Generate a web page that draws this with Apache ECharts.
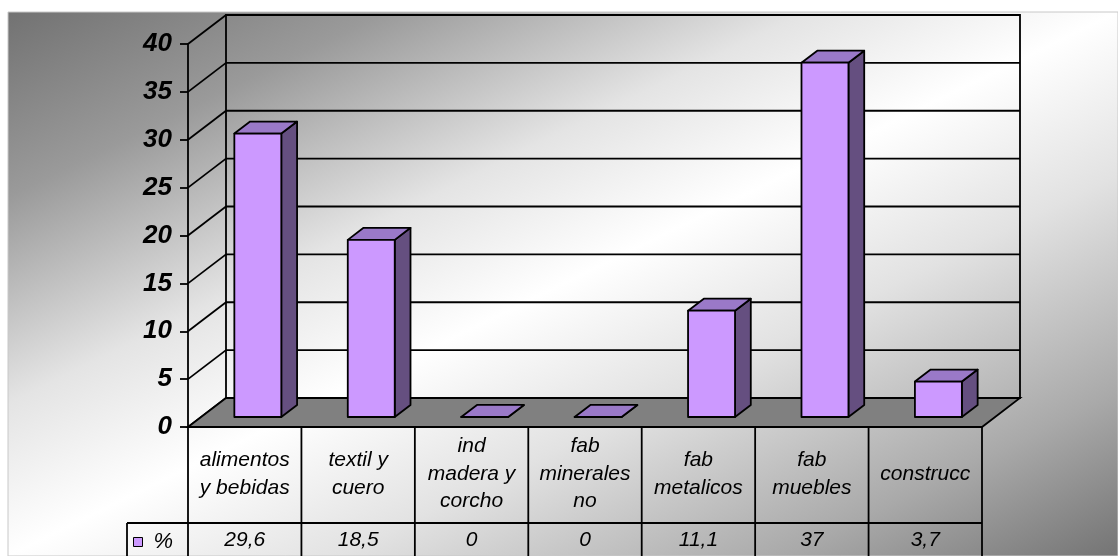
<!DOCTYPE html>
<html>
<head>
<meta charset="utf-8">
<script src="https://cdn.jsdelivr.net/npm/echarts@6/dist/echarts.min.js"></script>
<style>
html,body{margin:0;padding:0;background:#fff;}
#chart{width:1118px;height:556px;}
</style>
</head>
<body>
<div id="chart"></div>
<script>
// ---- data ----
const categories = ['alimentos\ny bebidas', 'textil y\ncuero', 'ind\nmadera y\ncorcho', 'fab\nminerales\nno', 'fab\nmetalicos', 'fab\nmuebles', 'construcc'];
const values = [29.6, 18.5, 0, 0, 11.1, 37, 3.7];
const seriesName = '%';
const yTicks = [0, 5, 10, 15, 20, 25, 30, 35, 40];

// ---- style constants ----
const FONT = '"Liberation Sans", Arial, sans-serif';
const DEPTH = [38, -29];       // oblique depth vector (front -> back)
const F_FRONT = 0.345, F_BACK = 0.76, BAR_FRAC = 0.414;
const C_FRONT = '#CC99FF', C_TOP = '#9A79C8', C_SIDE = '#654F80';
const LW = 1.8;
const fmt = v => String(v).replace('.', ',');

const chart = echarts.init(document.getElementById('chart'), null, {renderer: 'canvas'});

function renderWalls(params, api) {
  const cs = params.coordSys;
  const L = cs.x, R = cs.x + cs.width, B = cs.y + cs.height;
  const dx = DEPTH[0], dy = DEPTH[1];
  const band = api.size([1, 0])[0];
  const line = {stroke: '#000', lineWidth: LW};
  const ch = [];
  const yTop = api.coord([0, yTicks[yTicks.length - 1]])[1];
  // back wall outline
  ch.push({type: 'rect', shape: {x: L + dx, y: yTop + dy, width: R - L, height: B - yTop}, style: Object.assign({fill: 'none'}, line)});
  // gridlines on back wall + side wall
  yTicks.forEach(v => {
    const y = api.coord([0, v])[1];
    ch.push({type: 'line', shape: {x1: L + dx, y1: y + dy, x2: R + dx, y2: y + dy}, style: line});
    ch.push({type: 'line', shape: {x1: L, y1: y, x2: L + dx, y2: y + dy}, style: line});
  });
  // floor
  ch.push({type: 'polygon', shape: {points: [[L, B], [R, B], [R + dx, B + dy], [L + dx, B + dy]]}, style: Object.assign({fill: '#808080'}, line)});
  // data table lines
  const tBottom = B + 135, rowY = B + 96, legL = L - 61;
  for (let i = 0; i <= categories.length; i++) {
    const x = L + i * band;
    ch.push({type: 'line', shape: {x1: x, y1: B, x2: x, y2: tBottom}, style: line});
  }
  ch.push({type: 'line', shape: {x1: legL, y1: rowY, x2: R, y2: rowY}, style: line});
  ch.push({type: 'line', shape: {x1: legL, y1: rowY, x2: legL, y2: tBottom}, style: line});
  return {type: 'group', children: ch};
}

function renderBar(params, api) {
  const i = api.value(0), v = api.value(1);
  const base = api.coord([i, 0]);
  const top = api.coord([i, v]);
  const band = api.size([1, 0])[0];
  const w = band * BAR_FRAC;
  const fx = DEPTH[0] * F_FRONT, fy = DEPTH[1] * F_FRONT;
  const ddx = DEPTH[0] * (F_BACK - F_FRONT), ddy = DEPTH[1] * (F_BACK - F_FRONT);
  const x0 = base[0] - w / 2 + fx, x1 = base[0] + w / 2 + fx;
  const yb = base[1] + fy, yt = top[1] + fy;
  const st = {stroke: '#000', lineWidth: LW, lineJoin: 'round'};
  return {type: 'group', children: [
    {type: 'polygon', shape: {points: [[x1, yb], [x1 + ddx, yb + ddy], [x1 + ddx, yt + ddy], [x1, yt]]}, style: Object.assign({fill: C_SIDE}, st)},
    {type: 'polygon', shape: {points: [[x0, yt], [x1, yt], [x1 + ddx, yt + ddy], [x0 + ddx, yt + ddy]]}, style: Object.assign({fill: C_TOP}, st)},
    {type: 'rect', shape: {x: x0, y: yt, width: w, height: yb - yt}, style: Object.assign({fill: C_FRONT}, st)}
  ]};
}

const bg = new echarts.graphic.LinearGradient(8, 12, 438, 889, [
  {offset: 0, color: '#727272'},
  {offset: 0.17, color: '#9a9a9a'},
  {offset: 0.36, color: '#e4e4e4'},
  {offset: 0.5, color: '#ffffff'},
  {offset: 0.65, color: '#e2e2e2'},
  {offset: 0.85, color: '#a9a9a9'},
  {offset: 1, color: '#747474'}
], true);

const option = {
  animation: false,
  backgroundColor: '#fff',
  graphic: [{type: 'rect', z: -10, shape: {x: 8, y: 12, width: 1110, height: 544}, style: {fill: bg, stroke: '#c8c8c8', lineWidth: 1}}],
  legend: {
    left: 133, top: 531, padding: 0,
    data: [seriesName],
    icon: 'rect', itemWidth: 9, itemHeight: 9,
    itemStyle: {color: C_FRONT, borderColor: '#000', borderWidth: 1},
    textStyle: {fontFamily: FONT, fontSize: 22, fontStyle: 'italic', color: '#000', padding: [0, 0, 0, 6]},
    selectedMode: false
  },
  grid: {left: 188, top: 44, width: 794, height: 383, containLabel: false},
  xAxis: [{
    type: 'category', data: categories, position: 'bottom',
    axisLine: {show: false}, axisTick: {show: false}, splitLine: {show: false},
    axisLabel: {interval: 0, margin: 47, verticalAlign: 'middle', fontFamily: FONT, fontSize: 21, fontStyle: 'italic', lineHeight: 27.5, color: '#000'}
  }, {
    type: 'category', data: categories, position: 'bottom', gridIndex: 0,
    axisLine: {show: false}, axisTick: {show: false}, splitLine: {show: false},
    axisLabel: {interval: 0, margin: 113, verticalAlign: 'middle', fontFamily: FONT, fontSize: 21, fontStyle: 'italic', color: '#000',
      formatter: (val, idx) => fmt(values[idx])}
  }],
  yAxis: {
    type: 'value', min: 0, max: 40, interval: 5,
    axisLine: {show: true, lineStyle: {color: '#000', width: LW}},
    axisTick: {show: true, length: 8, lineStyle: {color: '#000', width: LW}},
    splitLine: {show: false},
    axisLabel: {margin: 16, fontFamily: FONT, fontSize: 26, fontWeight: 'bold', fontStyle: 'italic', color: '#000'}
  },
  series: [{
    type: 'custom', name: 'walls', z: 1, silent: true,
    renderItem: renderWalls, data: [[0, 0]]
  }, {
    type: 'custom', name: seriesName, z: 3,
    itemStyle: {color: C_FRONT},
    renderItem: renderBar,
    data: values.map((v, i) => [i, v])
  }]
};
chart.setOption(option);
</script>
</body>
</html>
